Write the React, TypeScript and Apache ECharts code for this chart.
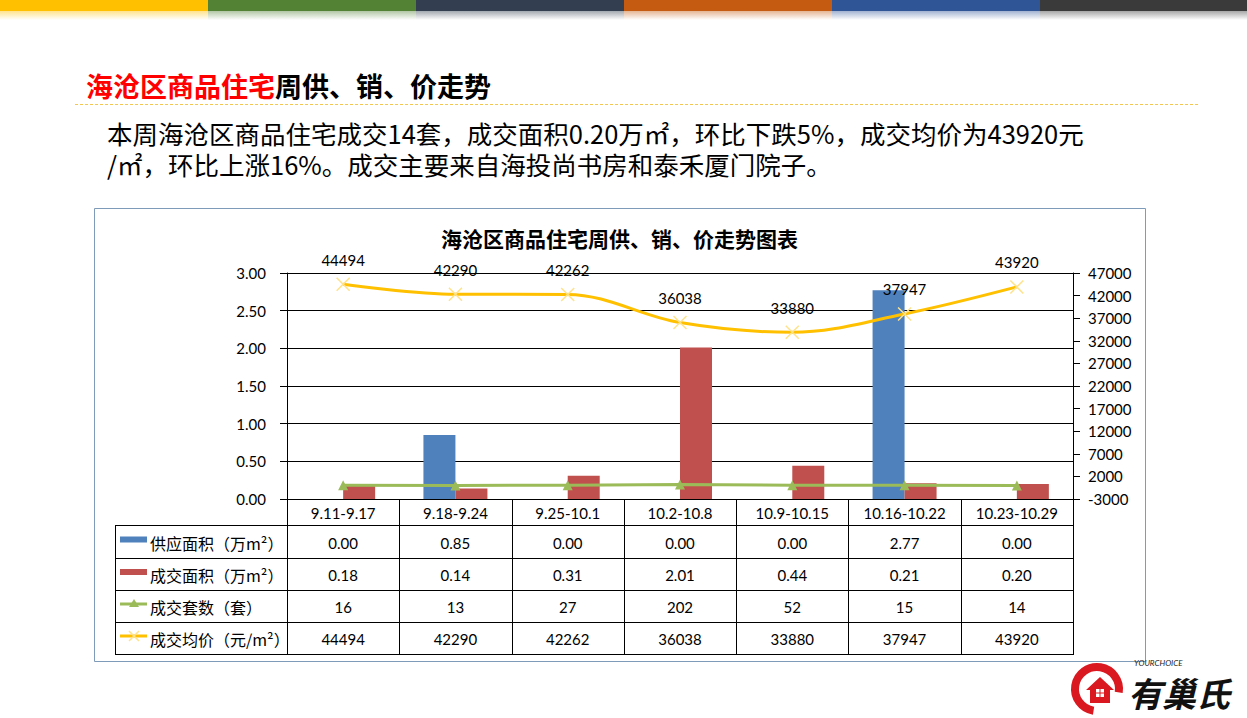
import React, { useEffect, useRef } from 'react';
import * as echarts from 'echarts';

const categories = ['9.11-9.17', '9.18-9.24', '9.25-10.1', '10.2-10.8', '10.9-10.15', '10.16-10.22', '10.23-10.29'];
const supplyArea = [0.0, 0.85, 0.0, 0.0, 0.0, 2.77, 0.0];
const dealArea = [0.18, 0.14, 0.31, 2.01, 0.44, 0.21, 0.2];
const dealUnits = [16, 13, 27, 202, 52, 15, 14];
const avgPrice = [44494, 42290, 42262, 36038, 33880, 37947, 43920];
const seriesNames = ['供应面积（万m²）', '成交面积（万m²）', '成交套数（套）', '成交均价（元/m²）'];
const topColors = ['#FFC000', '#548235', '#333F50', '#C55A11', '#2F5597', '#3A3A3A'];
const paragraphLines = [
  '本周海沧区商品住宅成交14套，成交面积0.20万㎡，环比下跌5%，成交均价为43920元',
  '/㎡，环比上涨16%。成交主要来自海投尚书房和泰禾厦门院子。',
];

const W = 1247;
const H = 718;
const GL = 287;
const GR = 1073;
const GT = 273;
const GB = 499;
const TL = 115;
const rowLines = [525, 558, 590, 622, 654];
const FONT = 'Lato, "Noto Sans CJK SC", sans-serif';
const CJK = '"Noto Sans CJK SC", sans-serif';

function hexA(hex: string, a: number) {
  const n = parseInt(hex.slice(1), 16);
  return `rgba(${(n >> 16) & 255},${(n >> 8) & 255},${n & 255},${a})`;
}

export default function App() {
  const ref = useRef<HTMLDivElement>(null);
  useEffect(() => {
    const chart = echarts.init(ref.current!, null, { renderer: 'svg' });
    const cw = (GR - GL) / categories.length;
    const g: any[] = [];
    // top color bars
    topColors.forEach((c, i) => {
      g.push({ type: 'rect', shape: { x: i * 208, y: 0, width: 208, height: 11 }, style: { fill: c } });
      g.push({
        type: 'rect', shape: { x: i * 208, y: 11, width: 208, height: 9 },
        style: { fill: { type: 'linear', x: 0, y: 0, x2: 0, y2: 1, colorStops: [{ offset: 0, color: hexA(c, 0.45) }, { offset: 1, color: hexA(c, 0) }] } },
      });
    });
    // dashed underline
    g.push({ type: 'line', shape: { x1: 75, y1: 104.5, x2: 1200, y2: 104.5 }, style: { stroke: '#F5C74A', lineWidth: 1, lineDash: [3, 2] } });
    // chart box
    g.push({ type: 'rect', shape: { x: 94.5, y: 208.5, width: 1051, height: 453 }, style: { fill: 'none', stroke: '#7F9BBA', lineWidth: 1 } });
    // table lines
    rowLines.forEach((y) => {
      g.push({ type: 'line', shape: { x1: TL, y1: y + 0.5, x2: GR, y2: y + 0.5 }, style: { stroke: '#000', lineWidth: 1 } });
    });
    g.push({ type: 'line', shape: { x1: TL + 0.5, y1: rowLines[0], x2: TL + 0.5, y2: rowLines[4] + 1 }, style: { stroke: '#000', lineWidth: 1 } });
    for (let i = 0; i <= categories.length; i++) {
      const x = Math.round(GL + i * cw) + 0.5;
      g.push({ type: 'line', shape: { x1: x, y1: GB, x2: x, y2: rowLines[4] + 1 }, style: { stroke: '#000', lineWidth: 1 } });
    }
    // table values
    const rows = [
      supplyArea.map((v) => v.toFixed(2)),
      dealArea.map((v) => v.toFixed(2)),
      dealUnits.map((v) => String(v)),
      avgPrice.map((v) => String(v)),
    ];
    rows.forEach((r, ri) => {
      const cy = (rowLines[ri] + rowLines[ri + 1]) / 2 + 1;
      r.forEach((t, ci) => {
        g.push({ type: 'text', style: { x: GL + cw * (ci + 0.5), y: cy, text: t, fill: '#000', font: `15px ${FONT}`, align: 'center', verticalAlign: 'middle' } });
      });
      g.push({ type: 'text', style: { x: 150, y: cy, text: seriesNames[ri], fill: '#000', font: `16px ${CJK}`, align: 'left', verticalAlign: 'middle' } });
    });
    // legend keys
    const ky = (i: number) => (rowLines[i] + rowLines[i + 1]) / 2 - 2;
    g.push({ type: 'rect', shape: { x: 120, y: ky(0) - 3, width: 27, height: 6 }, style: { fill: '#4F81BD' } });
    g.push({ type: 'rect', shape: { x: 120, y: ky(1) - 3, width: 27, height: 6 }, style: { fill: '#C0504D' } });
    g.push({ type: 'line', shape: { x1: 120, y1: ky(2), x2: 147, y2: ky(2) }, style: { stroke: '#9BBB59', lineWidth: 3 } });
    g.push({ type: 'polygon', shape: { points: [[134, ky(2) - 5], [139, ky(2) + 3], [129, ky(2) + 3]] }, style: { fill: '#9BBB59' } });
    g.push({ type: 'line', shape: { x1: 120, y1: ky(3), x2: 147, y2: ky(3) }, style: { stroke: '#FFC000', lineWidth: 3 } });
    g.push({ type: 'line', shape: { x1: 129, y1: ky(3) - 5, x2: 139, y2: ky(3) + 5 }, style: { stroke: '#FFE28A', lineWidth: 1.5 } });
    g.push({ type: 'line', shape: { x1: 139, y1: ky(3) - 5, x2: 129, y2: ky(3) + 5 }, style: { stroke: '#FFE28A', lineWidth: 1.5 } });
    // logo
    g.push({ type: 'arc', shape: { cx: 1097, cy: 689, r: 22, startAngle: Math.PI * 0.55, endAngle: Math.PI * 2.05 }, style: { stroke: '#D9181F', lineWidth: 8, fill: 'none' } });
    g.push({ type: 'polygon', shape: { points: [[1086, 690], [1100, 677], [1114, 690], [1110, 690], [1110, 703], [1090, 703], [1090, 690]] }, style: { fill: '#D9181F' } });
    g.push({ type: 'rect', shape: { x: 1096, y: 689, width: 8, height: 8 }, style: { fill: '#fff' } });
    g.push({ type: 'line', shape: { x1: 1100, y1: 689, x2: 1100, y2: 697 }, style: { stroke: '#D9181F', lineWidth: 1 } });
    g.push({ type: 'line', shape: { x1: 1096, y1: 693, x2: 1104, y2: 693 }, style: { stroke: '#D9181F', lineWidth: 1 } });
    g.push({ type: 'text', style: { x: 1134, y: 663, text: 'YOURCHOICE', fill: '#222', font: `italic 8px ${FONT}`, align: 'left', verticalAlign: 'middle' } });
    g.push({ type: 'text', style: { x: 1128, y: 692, text: '有巢氏', fill: '#111', font: `italic bold 34px ${CJK}`, align: 'left', verticalAlign: 'middle' } });

    const paraTitles = paragraphLines.map((t, i) => ({
      text: t, left: 102, top: 114 + i * 31.5,
      textStyle: { fontSize: 25.5, fontWeight: 'normal', color: '#000', fontFamily: CJK, lineHeight: 26 },
    }));

    const option: any = {
      animation: false,
      backgroundColor: '#fff',
      title: [
        {
          text: '{r|海沧区商品住宅}{b|周供、销、价走势}', left: 81, top: 65,
          textStyle: { rich: { r: { color: '#FF0000', fontSize: 27, fontWeight: 'bold', fontFamily: CJK, lineHeight: 30 }, b: { color: '#000', fontSize: 27, fontWeight: 'bold', fontFamily: CJK, lineHeight: 30 } } },
        },
        ...paraTitles,
        {
          text: '海沧区商品住宅周供、销、价走势图表', left: 436, top: 221,
          textStyle: { fontSize: 21, fontWeight: 'bold', color: '#000', fontFamily: CJK, lineHeight: 24 },
        },
      ],
      grid: { left: GL, right: W - GR, top: GT, bottom: H - GB, containLabel: false },
      xAxis: {
        type: 'category', data: categories,
        axisLine: { show: true, lineStyle: { color: '#000', width: 1 } },
        axisTick: { show: false },
        axisLabel: { color: '#000', fontSize: 15, fontFamily: FONT, margin: 6, interval: 0 },
      },
      yAxis: [
        {
          type: 'value', min: 0, max: 3, interval: 0.5, position: 'left',
          axisLine: { show: true, lineStyle: { color: '#000' } },
          axisTick: { show: true, length: 7, lineStyle: { color: '#000' } },
          splitLine: { show: true, lineStyle: { color: '#000', width: 1 } },
          axisLabel: { color: '#000', fontSize: 15, fontFamily: FONT, margin: 21, formatter: (v: number) => v.toFixed(2) },
        },
        {
          type: 'value', min: -3000, max: 47000, interval: 5000, position: 'right',
          axisLine: { show: true, lineStyle: { color: '#000' } },
          axisTick: { show: true, length: 7, lineStyle: { color: '#000' } },
          splitLine: { show: false },
          axisLabel: { color: '#000', fontSize: 15, fontFamily: FONT, margin: 15, formatter: (v: number) => String(v) },
        },
      ],
      series: [
        { name: seriesNames[0], type: 'bar', data: supplyArea, barWidth: 32, barGap: '0%', itemStyle: { color: '#4F81BD' } },
        { name: seriesNames[1], type: 'bar', data: dealArea, barWidth: 32, barGap: '0%', itemStyle: { color: '#C0504D' } },
        {
          name: seriesNames[2], type: 'line', yAxisIndex: 1, data: dealUnits,
          symbol: 'triangle', symbolSize: 10,
          lineStyle: { color: '#9BBB59', width: 3 }, itemStyle: { color: '#9BBB59' },
        },
        {
          name: seriesNames[3], type: 'line', yAxisIndex: 1, data: avgPrice, smooth: 0.35,
          symbol: 'path://M0,0L10,10M10,0L0,10', symbolSize: 13,
          lineStyle: { color: '#FFC000', width: 3 },
          itemStyle: { color: '#FFE28A', borderColor: '#FFE28A', borderWidth: 1.5 },
          label: { show: true, position: 'top', distance: 10, color: '#000', fontSize: 15, fontFamily: FONT },
        },
      ],
      graphic: g,
    };
    chart.setOption(option);
    return () => chart.dispose();
  }, []);
  return <div ref={ref} style={{ position: 'absolute', left: 0, top: 0, width: W, height: H, background: '#fff' }} />;
}
